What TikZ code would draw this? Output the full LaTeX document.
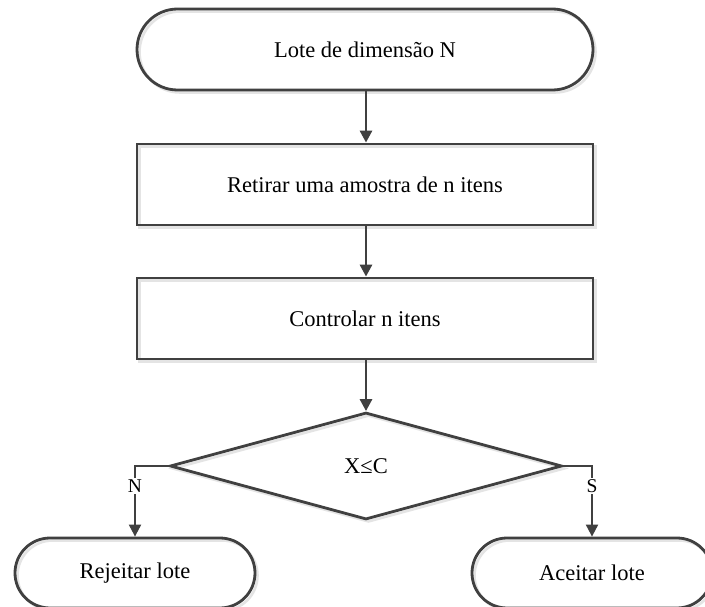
\documentclass[tikz,border=0pt]{standalone}
\usepackage{fontspec}
\setmainfont{Liberation Serif}
\usetikzlibrary{shapes.misc,shapes.geometric,arrows.meta}

\definecolor{ink}{HTML}{404040}
\definecolor{shadowc}{HTML}{E4E4E4}

\tikzset{
  shad/.style={preaction={draw=shadowc, line width=2.6pt,
      transform canvas={xshift=2.5pt, yshift=-2.5pt}}},
  base/.style={draw=ink, line width=2.8pt, text=black, inner sep=0pt,
      font=\fontsize{22.5}{27}\selectfont, shad},
  terminal/.style={base, rounded rectangle},
  procbox/.style={base, rectangle},
  decision/.style={base, diamond},
  flow/.style={draw=ink, line width=2.8pt,
      -{Triangle[length=12pt,width=12pt]}},
  branch/.style={draw=ink, line width=2pt,
      -{Triangle[length=12pt,width=12pt]}},
  lbl/.style={fill=white, inner sep=1.5pt, text=black,
      font=\fontsize{19.5}{22}\selectfont}
}

\begin{document}
\begin{tikzpicture}[x=1pt, y=-1pt]
  \useasboundingbox (0,0) rectangle (705,607);
  \fill[white] (0,0) rectangle (705,607);

  % main column
  \node[terminal, minimum width=456pt, minimum height=81pt] (lote) at (365,49.5) {Lote de dimensão N};
  \node[procbox, minimum width=456pt, minimum height=81pt] (amostra) at (365,184.5) {Retirar uma amostra de n itens};
  \node[procbox, minimum width=456pt, minimum height=81pt] (controlar) at (365,318.5) {Controlar n itens};
  \node[decision, minimum width=392pt, minimum height=107pt] (dec) at (366,466) {X≤C};

  % outcomes
  \node[terminal, minimum width=240pt, minimum height=70pt] (rej) at (135,573) {Rejeitar lote};
  \node[terminal, minimum width=240pt, minimum height=70pt] (ace) at (592,573) {Aceitar lote};

  % connectors
  \draw[flow] (lote.south -| 366,0) -- (amostra.north -| 366,0);
  \draw[flow] (amostra.south -| 366,0) -- (controlar.north -| 366,0);
  \draw[flow] (controlar.south -| 366,0) -- (dec.north);
  \draw[branch] (dec.west) -| node[lbl, pos=0.64] {N} (rej.north);
  \draw[branch] (dec.east) -| node[lbl, pos=0.64] {S} (ace.north);
\end{tikzpicture}
\end{document}
